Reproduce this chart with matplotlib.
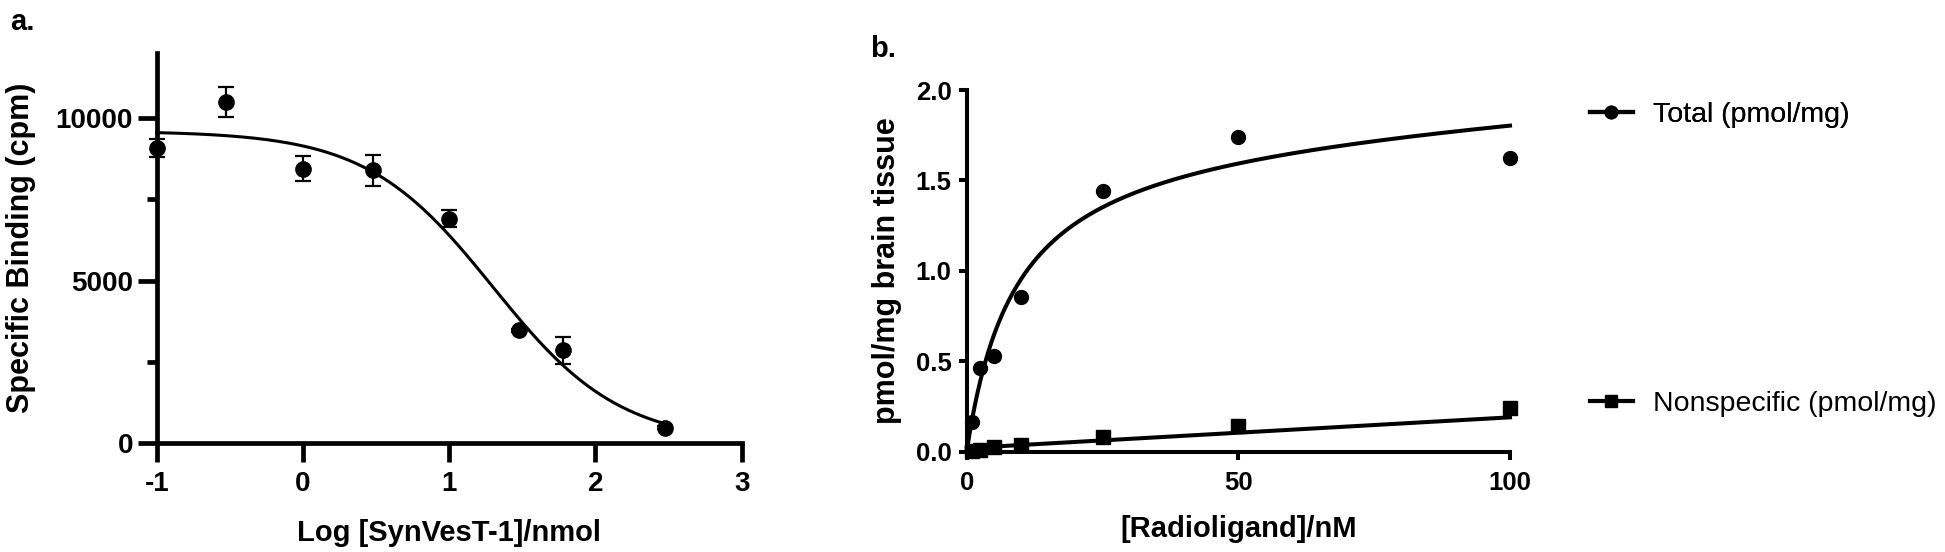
import numpy as np
import matplotlib
matplotlib.use("Agg")
import matplotlib.pyplot as plt
from matplotlib.lines import Line2D
from matplotlib.ticker import MultipleLocator, FormatStrFormatter

# panel a - competition binding
log_conc = [-1, -0.523, 0, 0.477, 1, 1.477, 1.778, 2.477]
binding = [9080, 10490, 8440, 8390, 6900, 3470, 2860, 480]
binding_err = [270, 460, 390, 475, 260, 50, 420, 50]
# one-site fit params
fit_top = 9600
fit_bottom = 0
fit_logic50 = 1.3
fit_hill = 1.0

# panel b - saturation binding
radioligand = [1, 2.5, 5, 10, 25, 50, 100]
total = [0.164, 0.464, 0.528, 0.855, 1.442, 1.742, 1.624]
nonspecific = [0.005, 0.01, 0.028, 0.037, 0.083, 0.141, 0.243]
bmax = 1.78
kd = 9.0
ns_slope = 0.0017
ns_intercept = 0.02

W, H = 1945, 552
plt.rcParams['font.family'] = ['Liberation Sans', 'DejaVu Sans']
plt.rcParams['font.weight'] = 'bold'
plt.rcParams['axes.unicode_minus'] = False

fig = plt.figure(figsize=(W / 100, H / 100), dpi=100)

# ---- panel a ----
ax_a = fig.add_axes([156.7 / W, 1 - 443.3 / H, 585 / W, 390.3 / H])
xs = np.linspace(log_conc[0], log_conc[-1], 300)
ys = fit_bottom + (fit_top - fit_bottom) / (1 + 10 ** ((xs - fit_logic50) * fit_hill))
ax_a.plot(xs, ys, color='black', lw=2.2, clip_on=False)
ax_a.errorbar(log_conc, binding, yerr=binding_err, fmt='o', color='black', ms=11,
              ecolor='black', elinewidth=1.6, capsize=6, capthick=1.6, clip_on=False, zorder=3)
ax_a.set_xlim(-1, 3)
ax_a.set_ylim(0, 12000)
ax_a.set_xticks([-1, 0, 1, 2, 3])
ax_a.set_yticks([0, 5000, 10000])
ax_a.yaxis.set_minor_locator(MultipleLocator(2500))
ax_a.spines['top'].set_visible(False)
ax_a.spines['right'].set_visible(False)
for s in ['left', 'bottom']:
    ax_a.spines[s].set_linewidth(3.4)
ax_a.tick_params(axis='both', which='major', length=14, width=3.4, labelsize=20, pad=3)
ax_a.tick_params(axis='x', pad=6)
ax_a.tick_params(axis='y', which='minor', length=7, width=3.4)
ax_a.set_xlabel('Log [SynVesT-1]/nmol', fontsize=21, fontweight='bold', labelpad=16)
ax_a.set_ylabel('Specific Binding (cpm)', fontsize=22, fontweight='bold', labelpad=14)
fig.text(10 / W, 1 - 8 / H, 'a.', fontsize=21, fontweight='bold', va='top', ha='left')

# ---- panel b ----
ax_b = fig.add_axes([966.7 / W, 1 - 451.7 / H, 543.3 / W, 361.7 / H])
xc = np.linspace(0, 100, 400)
tot_fit = bmax * xc / (kd + xc) + ns_slope * xc
ns_fit = ns_intercept + ns_slope * xc
ax_b.plot(xc, tot_fit, color='black', lw=2.9, clip_on=False)
ax_b.plot(xc, ns_fit, color='black', lw=2.9, clip_on=False)
ax_b.plot(radioligand, total, 'o', color='black', ms=10, clip_on=False, zorder=3)
ax_b.plot(radioligand, nonspecific, 's', color='black', ms=10, clip_on=False, zorder=3)
ax_b.set_xlim(0, 100)
ax_b.set_ylim(0, 2.0)
ax_b.set_xticks([0, 50, 100])
ax_b.set_yticks([0, 0.5, 1.0, 1.5, 2.0])
ax_b.yaxis.set_major_formatter(FormatStrFormatter('%.1f'))
ax_b.spines['top'].set_visible(False)
ax_b.spines['right'].set_visible(False)
for s in ['left', 'bottom']:
    ax_b.spines[s].set_linewidth(2.9)
ax_b.tick_params(axis='both', length=6, width=2.9, labelsize=18.5, pad=5)
ax_b.tick_params(axis='x', pad=8)
ax_b.set_xlabel('[Radioligand]/nM', fontsize=21, fontweight='bold', labelpad=14)
ax_b.set_ylabel('pmol/mg brain tissue', fontsize=22, fontweight='bold', labelpad=10)
fig.text(870 / W, 1 - 35 / H, 'b.', fontsize=21, fontweight='bold', va='top', ha='left')

# legend entries, placed by hand to the right
h_tot = Line2D([], [], color='black', lw=3, marker='o', ms=9)
h_ns = Line2D([], [], color='black', lw=3, marker='s', ms=8)
leg1 = fig.legend([h_tot], ['Total (pmol/mg)'], loc='center left',
                  bbox_to_anchor=(1590 / W, 1 - 115 / H), frameon=False,
                  prop={'size': 20.5, 'weight': 'normal'}, handlelength=1.5,
                  handletextpad=0.7, borderpad=0, borderaxespad=0)
leg2 = fig.legend([h_ns], ['Nonspecific (pmol/mg)'], loc='center left',
                  bbox_to_anchor=(1590 / W, 1 - 404 / H), frameon=False,
                  prop={'size': 20.5, 'weight': 'normal'}, handlelength=1.5,
                  handletextpad=0.7, borderpad=0, borderaxespad=0)
fig.add_artist(leg1)

fig.savefig('out.png', dpi=100)
